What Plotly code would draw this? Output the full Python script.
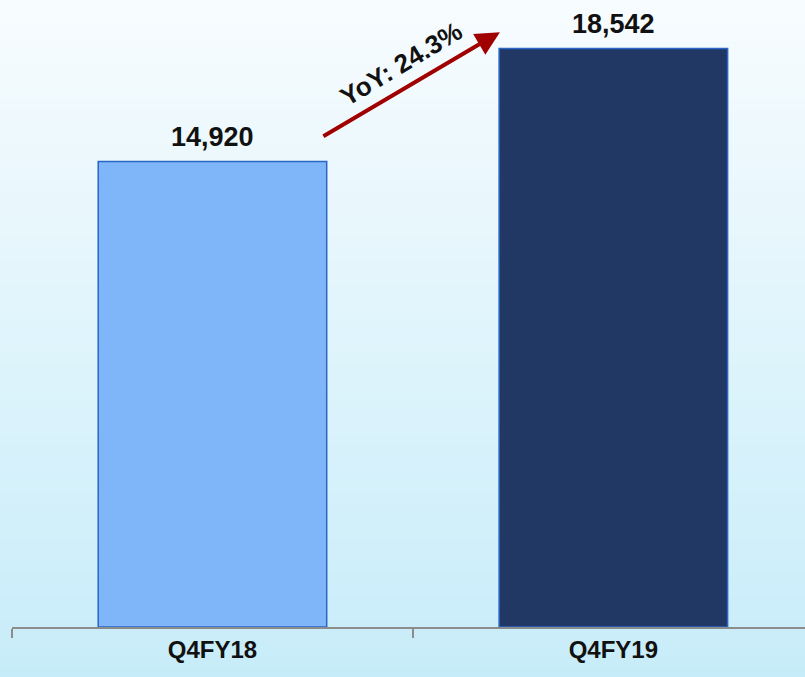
import plotly.graph_objects as go

categories = ["Q4FY18", "Q4FY19"]
values = [14920, 18542]
yoy_label = "YoY: 24.3%"

bar_colors = ["#7FB5F9", "#213864"]
edge_color = "#2A66C6"

fig = go.Figure()
fig.add_trace(go.Bar(
    x=categories, y=values,
    marker=dict(color=bar_colors, line=dict(color=edge_color, width=1.5)),
    width=0.57,
    hoverinfo="x+y",
))

annotations = []
for c, v in zip(categories, values):
    annotations.append(dict(
        x=c, y=v, xref="x", yref="y", yshift=25, showarrow=False,
        text=f"<b>{v:,}</b>",
        font=dict(family="Liberation Sans, Arial, sans-serif", size=27, color="#111111"),
    ))

# gradient background
shapes = []
n = 60
top = (248, 252, 254)
bot = (198, 236, 249)
y_lo, y_hi = -0.1, 1.01
for i in range(n):
    t0 = i / n
    t1 = (i + 1) / n
    c = tuple(int(round(top[k] + (bot[k] - top[k]) * (1 - (t0 + t1) / 2))) for k in range(3))
    shapes.append(dict(
        type="rect", xref="paper", yref="paper", layer="below",
        x0=-0.03, x1=1.02,
        y0=y_lo + (y_hi - y_lo) * t0, y1=y_lo + (y_hi - y_lo) * t1 + 0.002,
        fillcolor="rgb(%d,%d,%d)" % c, line=dict(width=0),
    ))

annotations += [
    dict(
        x=0.717, y=19070, xref="x", yref="y",
        ax=0.273, ay=15705, axref="x", ayref="y",
        showarrow=True, arrowhead=2, arrowsize=1.2, arrowwidth=4,
        arrowcolor="#A00000", text="",
    ),
    dict(
        x=0.47, y=18050, xref="x", yref="y",
        text=f"<b>{yoy_label}</b>", showarrow=False, textangle=-31,
        font=dict(family="Liberation Sans, Arial, sans-serif", size=26, color="#111111"),
    ),
]

fig.update_layout(
    width=805, height=677,
    margin=dict(l=12, r=0, t=0, b=50),
    paper_bgcolor="#E2F4FB",
    plot_bgcolor="rgba(0,0,0,0)",
    showlegend=False,
    shapes=shapes,
    xaxis=dict(
        range=[-0.5, 1.478],
        showline=True, linecolor="#8C8C8C", linewidth=1.5,
        ticks="outside", tickson="boundaries", ticklen=9, tickcolor="#8C8C8C", tickwidth=1.5,
        tickfont=dict(family="Liberation Sans Narrow, Arial Narrow, Arial, sans-serif", size=24, color="#111111"),
        tickvals=categories, ticktext=[f"<b>{c}</b>" for c in categories],
        showgrid=False, zeroline=False,
    ),
    yaxis=dict(range=[0, 20100], visible=False, showgrid=False),
    annotations=annotations,
)

fig.write_html("out.html", config={"displayModeBar": False},
               post_script="document.body.style.margin='0';document.body.style.overflow='hidden';")
